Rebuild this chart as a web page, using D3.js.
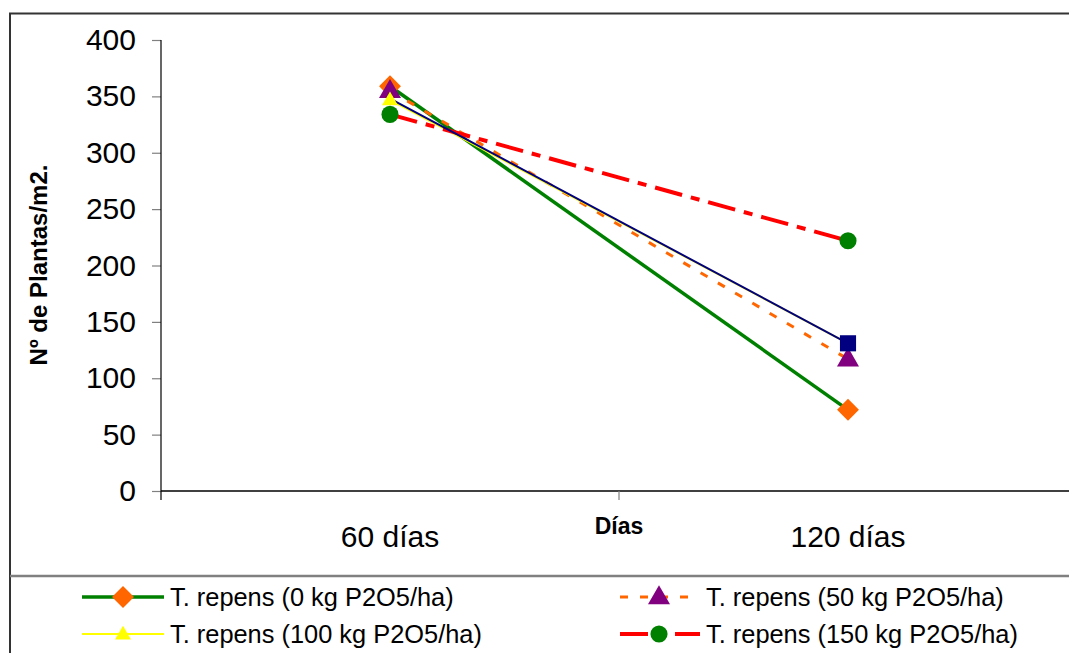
<!DOCTYPE html>
<html>
<head>
<meta charset="utf-8">
<script src="https://cdn.jsdelivr.net/npm/d3@7"></script>
<style>
  html, body { margin: 0; padding: 0; background: #fff; }
  svg { display: block; }
  text { font-family: "Liberation Sans", Arial, sans-serif; fill: #000; }
</style>
</head>
<body>
<svg id="chart" width="1069" height="653"></svg>
<script>
// ---------- data ----------
const categories = ["60 días", "120 días"];
const yTicks = [0, 50, 100, 150, 200, 250, 300, 350, 400];
const seriesNames = [
  "T. repens (0 kg P2O5/ha)",
  "T. repens (50 kg P2O5/ha)",
  "T. repens (100 kg P2O5/ha)",
  "T. repens (150 kg P2O5/ha)"
];
const values0 = [359, 72];
const values50 = [355, 117];
const values100 = [347, 131];
const values150 = [334, 222];
const valuesBlue = [348, 131];
const yTitle = "Nº de Plantas/m2.";
const xTitle = "Días";

// ---------- styles ----------
const styles = [
  { values: values0, line: "#008000", width: 3.5, dash: null, marker: "diamond", mfill: "#FF6600", msize: 240, legend: true },
  { values: values50, line: "#FF6600", width: 3, dash: "8,12", marker: "triangle", mfill: "#800080", msize: 210, legend: true },
  { values: values100, line: "#FFFF00", width: 2, dash: null, marker: "triangle", mfill: "#FFFF00", msize: 110, legend: true },
  { values: values150, line: "#FF0000", width: 4, dash: "28,9,9,9", marker: "circle", mfill: "#008000", msize: 230, legend: true },
  { values: valuesBlue, line: "#000080", width: 2, dash: null, marker: "square", mfill: "#000080", msize: 260, legend: false, lastOnly: true }
];

const svg = d3.select("#chart");
const W = 1069, H = 653;

// outer frame
svg.append("rect").attr("x", 10).attr("y", 13.5).attr("width", W + 20).attr("height", H + 20)
  .attr("fill", "#fff").attr("stroke", "#333").attr("stroke-width", 2);
// legend separator
svg.append("line").attr("x1", 10).attr("x2", W + 5).attr("y1", 576).attr("y2", 576)
  .attr("stroke", "#808080").attr("stroke-width", 2.5);

// scales
const plotLeft = 161, plotRight = 1077, plotTop = 40, plotBottom = 491;
const x = d3.scaleBand().domain(categories).range([plotLeft, plotRight]);
const y = d3.scaleLinear().domain([0, 400]).range([plotBottom, plotTop]);

// y axis
const yAxisG = svg.append("g").attr("transform", `translate(${plotLeft},0)`)
  .call(d3.axisLeft(y).tickValues(yTicks).tickSize(9).tickPadding(16));
yAxisG.select(".domain").remove();
yAxisG.selectAll(".tick line").attr("stroke", "#808080").attr("stroke-width", 1.2);
yAxisG.selectAll(".tick text").style("font-size", "30px").style("font-family", "'Liberation Sans', Arial, sans-serif").attr("fill", "#000");
svg.append("line").attr("x1", plotLeft).attr("x2", plotLeft).attr("y1", plotTop).attr("y2", plotBottom + 9)
  .attr("stroke", "#000").attr("stroke-width", 1.2);

// x axis
svg.append("line").attr("x1", plotLeft).attr("x2", plotRight).attr("y1", plotBottom).attr("y2", plotBottom)
  .attr("stroke", "#000").attr("stroke-width", 1.5);
const boundaries = categories.map(c => x(c)).concat([plotRight]).slice(1);
svg.selectAll(".xtick").data(boundaries).enter().append("line")
  .attr("x1", d => d).attr("x2", d => d).attr("y1", plotBottom).attr("y2", plotBottom + 9)
  .attr("stroke", "#808080").attr("stroke-width", 1.2);
svg.selectAll(".xlab").data(categories).enter().append("text")
  .attr("x", d => x(d) + x.bandwidth() / 2).attr("y", 547)
  .attr("text-anchor", "middle").style("font-size", "30px").text(d => d);

// titles
svg.append("text").attr("x", 619).attr("y", 534).attr("text-anchor", "middle")
  .style("font-size", "23px").style("font-weight", "bold").text(xTitle);
svg.append("text").attr("transform", `translate(47,265) rotate(-90)`).attr("text-anchor", "middle")
  .style("font-size", "24px").style("font-weight", "bold").text(yTitle);

// symbols
const symType = { diamond: d3.symbolSquare, triangle: d3.symbolTriangle, circle: d3.symbolCircle, square: d3.symbolSquare };
function markerPath(s) {
  return d3.symbol().type(symType[s.marker]).size(s.msize)();
}
function markerTransform(s, cx, cy) {
  if (s.marker === "diamond") return `translate(${cx},${cy}) rotate(45)`;
  if (s.marker === "triangle") return `translate(${cx},${cy + 1})`;
  return `translate(${cx},${cy})`;
}

const cx = c => x(c) + x.bandwidth() / 2;
const lineGen = d3.line().x((d, i) => cx(categories[i])).y(d => y(d));

// lines (blue drawn last so it covers the yellow line)
const order = [0, 1, 2, 3, 4];
order.forEach(k => {
  const s = styles[k];
  svg.append("path").attr("d", lineGen(s.values)).attr("fill", "none")
    .attr("stroke", s.line).attr("stroke-width", s.width)
    .attr("stroke-dasharray", s.dash).attr("stroke-linecap", "butt");
});
// markers
order.forEach(k => {
  const s = styles[k];
  s.values.forEach((v, i) => {
    if (s.lastOnly && i < s.values.length - 1) return;
    svg.append("path").attr("d", markerPath(s))
      .attr("transform", markerTransform(s, cx(categories[i]), y(v)))
      .attr("fill", s.mfill);
  });
});

// legend
const legendPos = [
  { x0: 82, x1: 164, mx: 123, tx: 170, y: 597 },
  { x0: 620, x1: 700, mx: 659, tx: 706, y: 597 },
  { x0: 82, x1: 164, mx: 123, tx: 170, y: 634 },
  { x0: 620, x1: 700, mx: 659, tx: 706, y: 634 }
];
styles.filter(s => s.legend).forEach((s, k) => {
  const p = legendPos[k];
  const g = svg.append("g");
  g.append("line").attr("x1", p.x0).attr("x2", p.x1).attr("y1", p.y).attr("y2", p.y)
    .attr("stroke", s.line).attr("stroke-width", s.width).attr("stroke-dasharray", s.dash);
  g.append("path").attr("d", markerPath(s)).attr("transform", markerTransform(s, p.mx, p.y)).attr("fill", s.mfill);
  g.append("text").attr("x", p.tx).attr("y", p.y + 9).style("font-size", "25.4px").text(seriesNames[k]);
});
</script>
</body>
</html>
